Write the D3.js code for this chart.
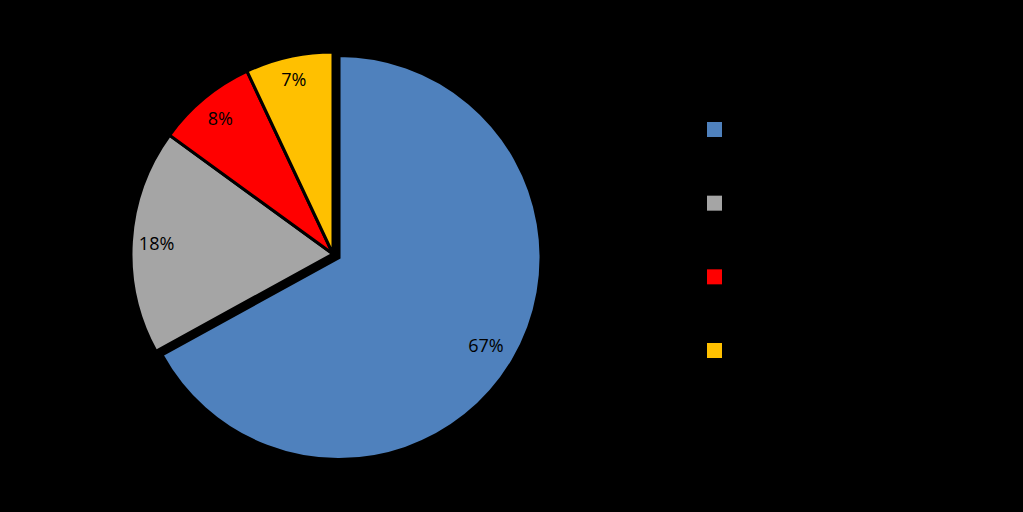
<!DOCTYPE html>
<html>
<head>
<meta charset="utf-8">
<script src="https://cdn.jsdelivr.net/npm/d3@7"></script>
<style>
  html, body { margin: 0; padding: 0; background: #000; }
  svg { display: block; }
  .sliceLabel { font-family: "Open Sans", "Liberation Sans", Arial, sans-serif; font-size: 18px; fill: #000; }
</style>
</head>
<body>
<div id="chart"></div>
<script>
// chart data
var categories = ["A", "B", "C", "D"];
var values = [67, 18, 8, 7];
var percentLabels = ["67%", "18%", "8%", "7%"];
var colors = ["#4F81BD", "#A5A5A5", "#FF0000", "#FFC000"];

var svgWidth = 1023;
var svgHeight = 512;

var svg = d3.select("#chart")
  .append("svg")
  .attr("width", svgWidth)
  .attr("height", svgHeight);

svg.append("rect")
  .attr("width", svgWidth)
  .attr("height", svgHeight)
  .attr("fill", "#000");

// pie setup
var cx = 333, cy = 254, radius = 202;
var explode = 7; // first slice is pulled out

var pie = d3.pie().sort(null).value(function (d, i) { return values[i]; });
var arc = d3.arc().innerRadius(0).outerRadius(radius);
// label distance from centre, per slice
var labelFactor = [0.845, 0.875, 0.875, 0.89];

var pieData = pie(categories);

var pieGroup = svg.append("g")
  .attr("transform", `translate(${cx}, ${cy})`);

var slices = pieGroup.selectAll("g.slice")
  .data(pieData)
  .enter()
  .append("g")
  .attr("class", "slice")
  .attr("transform", function (d, i) {
    if (i !== 0) return null;
    var mid = (d.startAngle + d.endAngle) / 2;
    return `translate(${Math.sin(mid) * explode}, ${-Math.cos(mid) * explode})`;
  });

slices.append("path")
  .attr("d", arc)
  .attr("fill", function (d, i) { return colors[i]; })
  .attr("stroke", "#000")
  .attr("stroke-width", 3)
  .attr("stroke-linejoin", "miter");

slices.append("text")
  .attr("class", "sliceLabel")
  .attr("transform", function (d, i) {
    var r = radius * labelFactor[i];
    var c = d3.arc().innerRadius(r).outerRadius(r).centroid(d);
    return `translate(${c[0]}, ${c[1]})`;
  })
  .attr("text-anchor", "middle")
  .attr("dy", "0.42em")
  .text(function (d, i) { return percentLabels[i]; });

// legend
var legendY = d3.scalePoint()
  .domain(categories)
  .range([129.5, 350.5]);

svg.append("g")
  .selectAll("rect")
  .data(categories)
  .enter()
  .append("rect")
  .attr("x", 707)
  .attr("y", function (d) { return legendY(d) - 7.5; })
  .attr("width", 15)
  .attr("height", 15)
  .attr("fill", function (d, i) { return colors[i]; });
</script>
</body>
</html>
